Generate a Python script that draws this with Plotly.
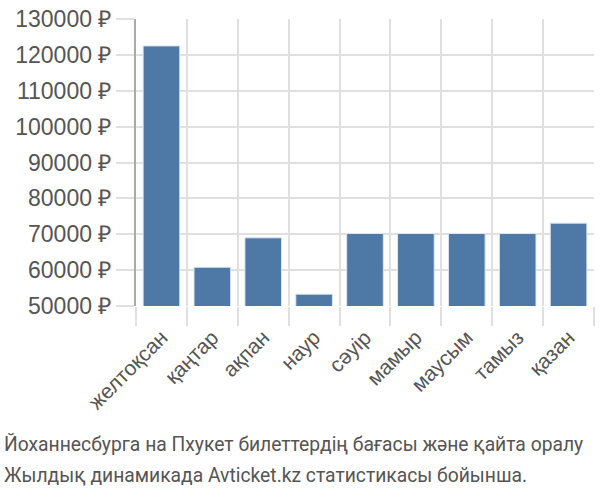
import plotly.graph_objects as go

categories = ["желтоқсан", "қаңтар", "ақпан", "наур", "сәуір", "мамыр", "маусым", "тамыз", "қазан"]
prices = [122500, 60800, 69000, 53300, 70200, 70200, 70200, 70200, 73100]
y_ticks = [50000, 60000, 70000, 80000, 90000, 100000, 110000, 120000, 130000]
title_lines = ["Йоханнесбурга на Пхукет билеттердің бағасы және қайта оралу",
               "Жылдық динамикада Avticket.kz статистикасы бойынша."]

xs = list(range(len(categories)))
bounds = [i - 0.5 for i in range(len(categories) + 1)]
y_text = [f"{v} ₽" for v in y_ticks]

fig = go.Figure(go.Bar(
    x=xs, y=prices, width=0.72,
    marker=dict(color="#4e79a7", line=dict(color="#dce6f0", width=1)),
))

fig.update_layout(
    width=600, height=500,
    margin=dict(l=136, r=6, t=14, b=194),
    plot_bgcolor="white", paper_bgcolor="white",
    showlegend=False,
    font=dict(family="Liberation Sans, Arial, sans-serif", color="#555555"),
)
fig.update_xaxes(
    range=[-0.5, len(categories) - 0.5],
    tickmode="array", tickvals=xs, ticktext=categories,
    tickangle=-45, tickfont=dict(size=21, color="#555555"),
    showgrid=False, ticks="outside", ticklen=10, tickcolor="rgba(0,0,0,0)",
    zeroline=False,
    minor=dict(tickmode="array", tickvals=bounds, showgrid=True,
               gridcolor="#e0e0e0", gridwidth=1.5, ticks="outside",
               ticklen=19, tickcolor="#e0e0e0", tickwidth=1.5),
    showline=False,
)
fig.update_yaxes(
    range=[50000, 130000],
    tickmode="array", tickvals=y_ticks, ticktext=y_text,
    tickfont=dict(size=23, color="#555555"),
    showgrid=True, gridcolor="#e0e0e0", gridwidth=1.5,
    ticks="outside", ticklen=18, tickcolor="#e0e0e0", tickwidth=1.5,
    showline=True, linecolor="#aaaaaa", linewidth=2,
    zeroline=False,
)
for line, ypos in zip(title_lines, [-0.483, -0.589]):
    fig.add_annotation(
        text=line, xref="paper", yref="paper",
        x=-0.2926, xanchor="left", y=ypos, yanchor="middle",
        showarrow=False,
        font=dict(family="Roboto, Liberation Sans, sans-serif", size=19.3, color="#555555"),
    )
fig.write_html("out.html")
